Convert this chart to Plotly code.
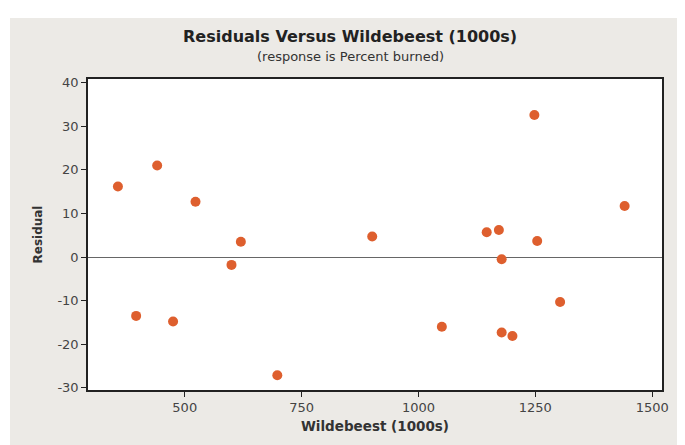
import plotly.graph_objects as go

wildebeest = [357, 441, 523, 620, 901, 600, 396, 475, 698, 1248, 1441, 1146, 1172, 1254, 1178, 1303, 1050, 1178, 1201]
residual = [16.2, 21.0, 12.7, 3.5, 4.7, -1.8, -13.5, -14.8, -27.1, 32.6, 11.7, 5.7, 6.2, 3.7, -0.5, -10.3, -16.0, -17.3, -18.1]
x_ticks = [500, 750, 1000, 1250, 1500]
x_labels = ["500", "750", "1000", "1250", "1500"]
y_ticks = [-30, -20, -10, 0, 10, 20, 30, 40]
y_labels = ["-30", "-20", "-10", "0", "10", "20", "30", "40"]

OFF = 8  # page body margin
W, H = 685 - OFF, 445 - OFF
L, R, T, B = 80, 23, 71, 55
pw, ph = W - L - R, H - T - B

def px(x):  # screen x -> paper
    return (x - OFF - L) / pw

def py(y):  # screen y -> paper
    return (H - B - (y - OFF)) / ph

grey = "#ECEAE6"
font = "DejaVu Sans"

fig = go.Figure()
fig.add_trace(go.Scatter(
    x=wildebeest, y=residual, mode="markers",
    marker=dict(color="#DE5F2E", size=10, line=dict(width=0)),
    showlegend=False, cliponaxis=False,
))

fig.update_layout(
    width=W, height=H,
    margin=dict(l=L, r=R, t=T, b=B),
    paper_bgcolor=grey, plot_bgcolor="white",
    font=dict(family=font, color="#333333", size=11),
    xaxis=dict(range=[293, 1521], tickvals=x_ticks, ticktext=x_labels, showgrid=False, zeroline=False,
               showline=True, mirror=True, linecolor="#222222", linewidth=1.5,
               ticks="outside", ticklen=5, tickcolor="#222222", tickfont=dict(size=13, color="#444444"),
               title=dict(text="<b>Wildebeest (1000s)</b>", font=dict(size=13.5, color="#333333"), standoff=7)),
    yaxis=dict(range=[-30.5, 40.85], tickvals=y_ticks, ticktext=y_labels, showgrid=False, zeroline=True,
               zerolinecolor="#666666", zerolinewidth=1,
               showline=True, mirror=True, linecolor="#222222", linewidth=1.5,
               ticks="outside", ticklen=5, tickcolor="#222222", tickfont=dict(size=13, color="#444444"),
               title=dict(text="<b>Residual</b>", font=dict(size=12, color="#333333"), standoff=12)),
    shapes=[
        dict(type="rect", xref="paper", yref="paper", x0=px(0), x1=px(690), y0=py(0), y1=py(18),
             fillcolor="white", line=dict(width=0), layer="below"),
        dict(type="rect", xref="paper", yref="paper", x0=px(0), x1=px(10), y0=py(0), y1=py(450),
             fillcolor="white", line=dict(width=0), layer="below"),
    ],
    annotations=[
        dict(text="<b>Residuals Versus Wildebeest (1000s)</b>", xref="paper", yref="paper",
             x=px(350), y=py(36), showarrow=False, font=dict(size=16, color="#222222"),
             xanchor="center", yanchor="middle"),
        dict(text="(response is Percent burned)", xref="paper", yref="paper",
             x=px(350), y=py(56), showarrow=False, font=dict(size=13, color="#333333"),
             xanchor="center", yanchor="middle"),
    ],
)

fig.write_html("out.html")
